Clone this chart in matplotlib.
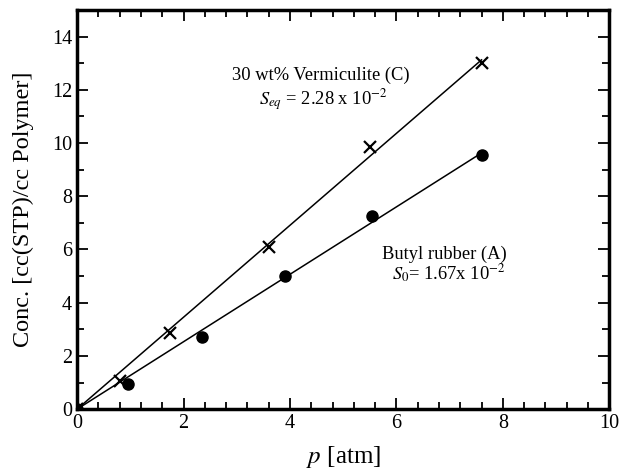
import numpy as np
import matplotlib
matplotlib.use('Agg')
import matplotlib.pyplot as plt
from matplotlib.ticker import MultipleLocator

plt.rcParams['font.family'] = 'Liberation Serif'
plt.rcParams['mathtext.fontset'] = 'stix'

# Vermiculite filled (C) - crosses
p_c = [0.0, 0.8, 1.75, 3.6, 5.5, 7.6]
conc_c = [0.0, 1.05, 2.85, 6.1, 9.85, 13.0]

# Butyl rubber (A) - filled circles
p_a = [0.0, 0.95, 2.35, 3.9, 5.55, 7.6]
conc_a = [0.0, 0.95, 2.7, 5.0, 7.25, 9.55]

# fit lines through origin
def slope(x, y):
    x = np.array(x); y = np.array(y)
    return (x * y).sum() / (x * x).sum()

fig = plt.figure(figsize=(6.32, 4.73), dpi=100)
ax = fig.add_axes([0.122, 0.135, 0.842, 0.844])

xx = np.array([0, 7.6])
ax.plot(xx, slope(p_c, conc_c) * xx, color='black', lw=1.1)
ax.plot(xx, slope(p_a, conc_a) * xx, color='black', lw=1.1)
ax.plot(p_c, conc_c, 'x', color='black', ms=9, mew=1.6)
ax.plot(p_a, conc_a, 'o', color='black', ms=8)

ax.set_xlim(0, 10)
ax.set_ylim(0, 15)
ax.xaxis.set_major_locator(MultipleLocator(2))
ax.xaxis.set_minor_locator(MultipleLocator(0.4))
ax.yaxis.set_major_locator(MultipleLocator(2))
ax.yaxis.set_minor_locator(MultipleLocator(1))
ax.tick_params(which='both', direction='in', top=True, right=True, labelsize=14.5, width=1.3)
ax.tick_params(which='major', length=8)
ax.tick_params(which='minor', length=5)
for s in ax.spines.values():
    s.set_linewidth(2.5)

ax.set_xlabel('$p$ [atm]', fontsize=18, labelpad=8)
ax.set_ylabel('Conc. [cc(STP)/cc Polymer]', fontsize=17.5, labelpad=13)

ax.text(4.58, 12.55, '30 wt% Vermiculite (C)', ha='center', va='center', fontsize=13.3)
ax.text(4.62, 11.6, r'$S_{eq}$ = 2.28 x 10$^{-2}$', ha='center', va='center', fontsize=13.3)
ax.text(6.91, 5.8, 'Butyl rubber (A)', ha='center', va='center', fontsize=13.3)
ax.text(6.98, 5.1, r'$S_0$= 1.67x 10$^{-2}$', ha='center', va='center', fontsize=13.3)

fig.savefig('out.png', dpi=100)
